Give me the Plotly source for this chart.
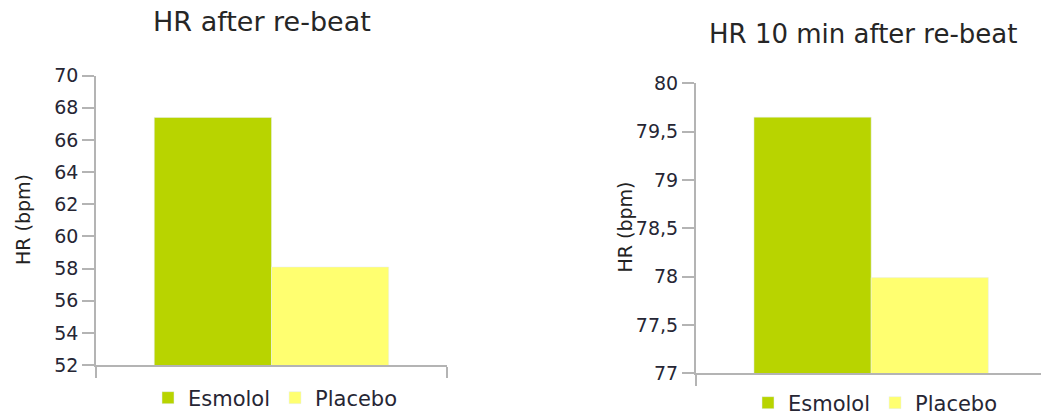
import plotly.graph_objects as go

# Heart-rate data (beats per minute)
groups = ["Esmolol", "Placebo"]
hr_after = [67.4, 58.1]
hr_10min = [79.65, 77.99]
colors = ["#b8d400", "#ffff70"]

W, H = 1041, 417
FONT = "DejaVu Sans"
TXT = "#262634"
AXIS = "#b4b4b4"


def fx(p):
    return p / W


def fy(p):
    return 1 - p / H


fig = go.Figure()

for name, val, col in zip(groups, hr_after, colors):
    fig.add_trace(go.Bar(x=[0], y=[val], name=name, marker_color=col,
                         xaxis="x", yaxis="y", legend="legend"))
for name, val, col in zip(groups, hr_10min, colors):
    fig.add_trace(go.Bar(x=[0], y=[val], name=name, marker_color=col,
                         xaxis="x2", yaxis="y2", legend="legend2"))

xcommon = dict(showline=True, linecolor=AXIS, linewidth=1.5, ticks="outside",
               tickcolor=AXIS, tickwidth=1.5, ticklen=11, tickvals=[-0.5, 0.5],
               showticklabels=False, showgrid=False, zeroline=False, fixedrange=True)
ycommon = dict(showline=True, linecolor=AXIS, linewidth=1.5, ticks="outside",
               tickcolor=AXIS, tickwidth=1.5, ticklen=12, showgrid=False,
               zeroline=False, tickfont=dict(family=FONT, size=19, color=TXT))

legend_common = dict(orientation="h", xanchor="left", yanchor="middle",
                     font=dict(family=FONT, size=21, color=TXT), itemwidth=30,
                     bgcolor="rgba(0,0,0,0)", tracegroupgap=0)

fig.update_layout(
    width=W, height=H,
    margin=dict(l=0, r=0, t=0, b=0, autoexpand=False),
    paper_bgcolor="white", plot_bgcolor="white",
    font=dict(family=FONT, color=TXT),
    separators=",.",
    barmode="group", bargap=0.332, bargroupgap=0,
    xaxis=dict(domain=[fx(96), fx(447)], range=[-0.5, 0.5], anchor="y", **xcommon),
    yaxis=dict(domain=[fy(365), fy(75.7)], range=[52, 70], dtick=2, anchor="x", **ycommon),
    xaxis2=dict(domain=[fx(695.7), 1], range=[-0.5, 0.484], anchor="y2", **xcommon),
    yaxis2=dict(domain=[fy(373.3), fy(83.3)], range=[77, 80], dtick=0.5, anchor="x2", **ycommon),
    legend=dict(x=fx(148), y=fy(398), **legend_common),
    legend2=dict(x=fx(748), y=fy(403), **legend_common),
    annotations=[
        dict(text="HR after re-beat", x=fx(261.5), y=fy(21.7), xref="paper", yref="paper",
             xanchor="center", yanchor="middle", showarrow=False,
             font=dict(family=FONT, size=27, color="#262626")),
        dict(text="HR 10 min after re-beat", x=fx(862.5), y=fy(34), xref="paper", yref="paper",
             xanchor="center", yanchor="middle", showarrow=False,
             font=dict(family=FONT, size=26, color="#262626")),
        dict(text="HR (bpm)", x=fx(23), y=fy(220), xref="paper", yref="paper",
             xanchor="center", yanchor="middle", showarrow=False, textangle=-90,
             font=dict(family=FONT, size=19, color="#222222")),
        dict(text="HR (bpm)", x=fx(624), y=fy(227.5), xref="paper", yref="paper",
             xanchor="center", yanchor="middle", showarrow=False, textangle=-90,
             font=dict(family=FONT, size=19, color="#222222")),
    ],
)

fig.write_html("out.html")
